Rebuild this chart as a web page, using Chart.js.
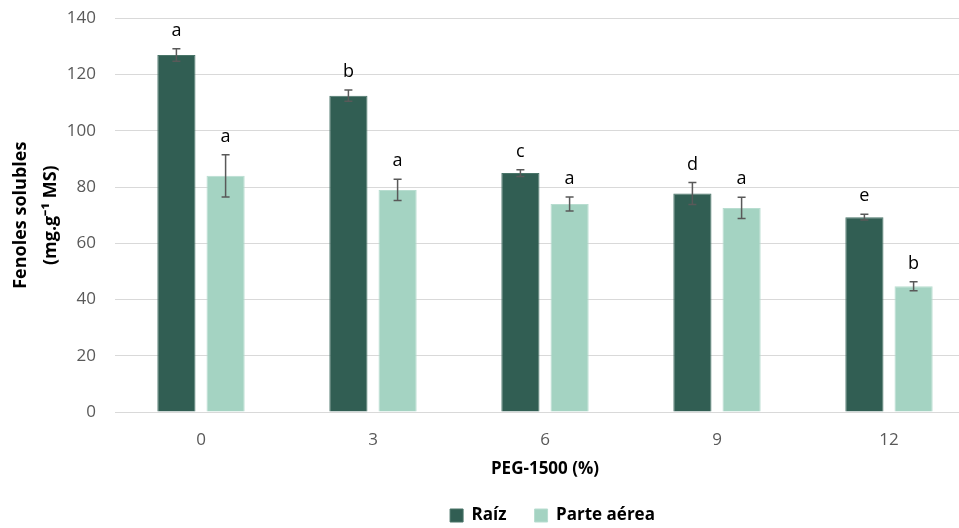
<!DOCTYPE html>
<html>
<head>
<meta charset="utf-8">
<script src="https://cdn.jsdelivr.net/npm/chart.js@4.4.0/dist/chart.umd.min.js"></script>
<style>
html,body{margin:0;padding:0;background:#fff;overflow:hidden;}
#wrap{width:975px;height:532px;margin-top:-4px;}
</style>
</head>
<body>
<div id="wrap"><canvas id="c" width="975" height="532"></canvas></div>
<script>
// data
const categories = ['0', '3', '6', '9', '12'];
const raiz = [127, 112.5, 85, 77.7, 69.3];
const raizErr = [2.2, 2, 1.2, 3.9, 1];
const raizLetters = ['a', 'b', 'c', 'd', 'e'];
const parte = [84, 79, 74, 72.6, 44.7];
const parteErr = [7.5, 3.8, 2.5, 3.8, 1.6];
const parteLetters = ['a', 'a', 'a', 'a', 'b'];
const yTicks = [0, 20, 40, 60, 80, 100, 120, 140];

const errs = [raizErr, parteErr];
const letters = [raizLetters, parteLetters];

// error bars + significance letters
const errorBars = {
  id: 'errorBars',
  afterDatasetsDraw(chart) {
    const ctx = chart.ctx, y = chart.scales.y;
    ctx.save();
    chart.data.datasets.forEach((ds, i) => {
      const meta = chart.getDatasetMeta(i);
      meta.data.forEach((bar, j) => {
        const v = ds.data[j], e = errs[i][j];
        const top = y.getPixelForValue(v + e), bot = y.getPixelForValue(v - e);
        ctx.strokeStyle = '#595959'; ctx.lineWidth = 1.5;
        ctx.beginPath();
        ctx.moveTo(bar.x, top); ctx.lineTo(bar.x, bot);
        ctx.moveTo(bar.x - 4, top); ctx.lineTo(bar.x + 4, top);
        ctx.moveTo(bar.x - 4, bot); ctx.lineTo(bar.x + 4, bot);
        ctx.stroke();
        ctx.fillStyle = '#000';
        ctx.font = '18px "Open Sans"';
        ctx.textAlign = 'center'; ctx.textBaseline = 'middle';
        ctx.fillText(letters[i][j], bar.x, top - 18);
      });
    });
    ctx.restore();
  }
};

// nudge the legend right, like the original
const legendShift = {
  id: 'legendShift',
  afterLayout(chart) { chart.legend.left += 130; }
};

new Chart(document.getElementById('c'), {
  type: 'bar',
  data: {
    labels: categories,
    datasets: [
      { label: 'Raíz', data: raiz, backgroundColor: '#315E53', borderColor: '#4a7569', borderWidth: 1, categoryPercentage: 0.572, barPercentage: 0.776 },
      { label: 'Parte aérea', data: parte, backgroundColor: '#A4D3C2', borderColor: '#b8ddd0', borderWidth: 1, categoryPercentage: 0.572, barPercentage: 0.776 }
    ]
  },
  options: {
    responsive: false,
    animation: false,
    devicePixelRatio: 1,
    layout: { padding: { top: 14, right: 0, left: 0, bottom: -6 } },
    plugins: {
      tooltip: { enabled: false },
      legend: {
        position: 'bottom',
        labels: {
          color: '#000',
          font: { family: 'Open Sans', size: 17, weight: 'bold' },
          boxWidth: 13, boxHeight: 13, padding: 28
        }
      }
    },
    scales: {
      x: {
        grid: { display: false },
        border: { color: '#d9d9d9' },
        ticks: { color: '#595959', font: { family: 'Open Sans', size: 17 }, padding: 10 },
        title: { display: true, text: 'PEG-1500 (%)', color: '#000', font: { family: 'Open Sans', size: 17, weight: 'bold' }, padding: { top: 6, bottom: 0 } },
        afterFit(s) { s.height = 67; }
      },
      y: {
        min: 0, max: 140,
        afterBuildTicks(s) { s.ticks = yTicks.map(v => ({ value: v })); },
        grid: { color: '#d9d9d9', drawTicks: false },
        border: { display: false },
        ticks: { color: '#595959', font: { family: 'Open Sans', size: 17, lineHeight: 0.4 }, padding: 19 },
        title: { display: true, text: ['Fenoles solubles', '(mg.g⁻¹ MS)'], color: '#000', font: { family: 'Open Sans', size: 18, weight: 'bold', lineHeight: 1.65 }, padding: { top: 6, bottom: 0 } },
        afterFit(s) { s.width = 115; }
      }
    }
  },
  plugins: [errorBars, legendShift]
});
</script>
</body>
</html>
